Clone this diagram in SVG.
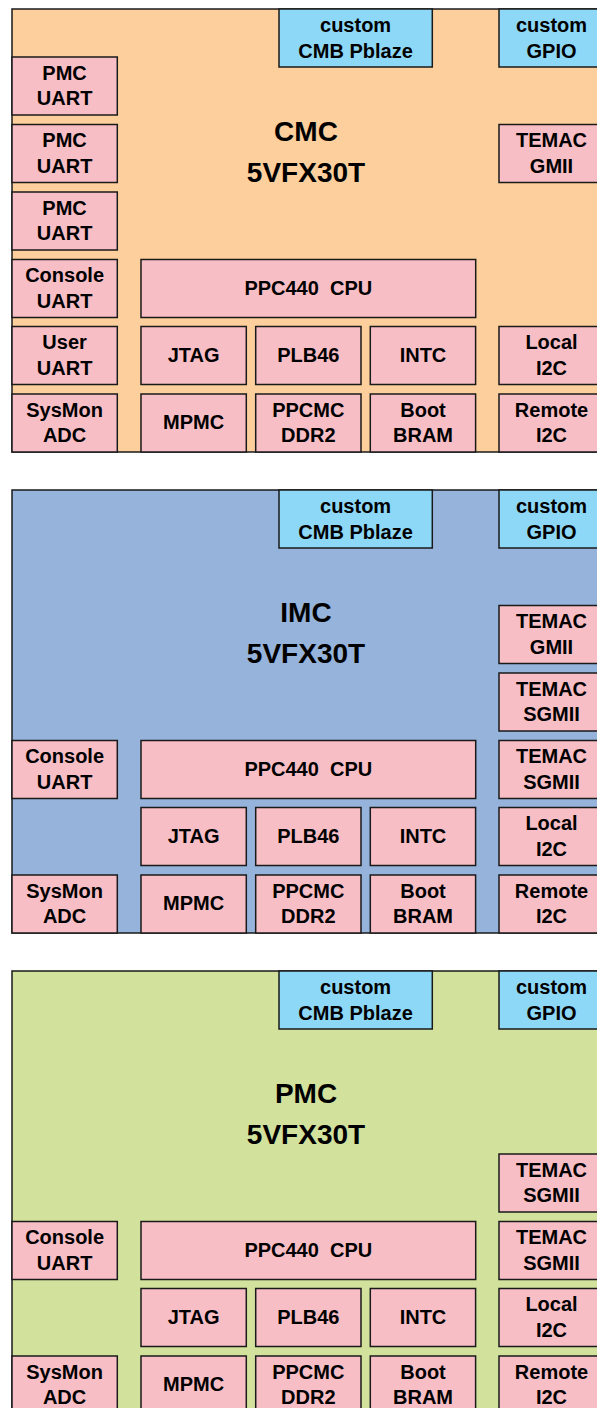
<svg xmlns="http://www.w3.org/2000/svg" width="597" height="1408" viewBox="0 0 597 1408">
<style>
text{font-family:"Liberation Sans",Arial,sans-serif;font-weight:bold;fill:#000;text-anchor:middle}
.t{font-size:20px}
.h{font-size:28px}
rect{stroke:#1a1a1a;stroke-width:1.5}
.cmc{fill:#FCCF9D}
.imc{fill:#95B3DB}
.pmc{fill:#D2E29D}
.p{fill:#F8BEC5}
.c{fill:#8ED8F7}
</style>

<!-- Panel 1: CMC -->
<g id="panel-cmc">
<rect id="cmc-bg" class="cmc" x="12" y="9" width="600" height="443"/>
<g id="cmc-title"><text class="h" x="306" y="140.5">CMC</text><text class="h" x="306" y="181.5">5VFX30T</text></g>
<g id="cmc-cmb"><rect class="c" x="279" y="9" width="153.3" height="58"/><text class="t" x="355.6" y="31.7">custom</text><text class="t" x="355.6" y="57.5">CMB Pblaze</text></g>
<g id="cmc-gpio"><rect class="c" x="499" y="9" width="110" height="58"/><text class="t" x="551.5" y="31.7">custom</text><text class="t" x="551.5" y="57.5">GPIO</text></g>
<g id="cmc-pmcuart1"><rect class="p" x="12" y="57" width="105.3" height="58"/><text class="t" x="64.6" y="79.5">PMC</text><text class="t" x="64.6" y="105.3">UART</text></g>
<g id="cmc-pmcuart2"><rect class="p" x="12" y="124.5" width="105.3" height="58"/><text class="t" x="64.6" y="147">PMC</text><text class="t" x="64.6" y="172.8">UART</text></g>
<g id="cmc-pmcuart3"><rect class="p" x="12" y="192" width="105.3" height="58"/><text class="t" x="64.6" y="214.5">PMC</text><text class="t" x="64.6" y="240.3">UART</text></g>
<g id="cmc-temac"><rect class="p" x="499" y="124.5" width="110" height="58"/><text class="t" x="551.5" y="147">TEMAC</text><text class="t" x="551.5" y="172.8">GMII</text></g>
<g id="cmc-console"><rect class="p" x="12" y="259.5" width="105.3" height="58"/><text class="t" x="64.6" y="282">Console</text><text class="t" x="64.6" y="307.8">UART</text></g>
<g id="cmc-cpu"><rect class="p" x="141" y="259.5" width="334.7" height="58"/><text class="t" x="308.3" y="294.5" xml:space="preserve">PPC440  CPU</text></g>
<g id="cmc-user"><rect class="p" x="12" y="326.5" width="105.3" height="58"/><text class="t" x="64.6" y="349">User</text><text class="t" x="64.6" y="374.8">UART</text></g>
<g id="cmc-jtag"><rect class="p" x="141" y="326.5" width="105.3" height="58"/><text class="t" x="193.6" y="361.5">JTAG</text></g>
<g id="cmc-plb"><rect class="p" x="255.7" y="326.5" width="105.3" height="58"/><text class="t" x="308.3" y="361.5">PLB46</text></g>
<g id="cmc-intc"><rect class="p" x="370.3" y="326.5" width="105.3" height="58"/><text class="t" x="423" y="361.5">INTC</text></g>
<g id="cmc-local"><rect class="p" x="499" y="326.5" width="110" height="58"/><text class="t" x="551.5" y="349">Local</text><text class="t" x="551.5" y="374.8">I2C</text></g>
<g id="cmc-sysmon"><rect class="p" x="12" y="394" width="105.3" height="58"/><text class="t" x="64.6" y="416.5">SysMon</text><text class="t" x="64.6" y="442.3">ADC</text></g>
<g id="cmc-mpmc"><rect class="p" x="141" y="394" width="105.3" height="58"/><text class="t" x="193.6" y="429">MPMC</text></g>
<g id="cmc-ppcmc"><rect class="p" x="255.7" y="394" width="105.3" height="58"/><text class="t" x="308.3" y="416.5">PPCMC</text><text class="t" x="308.3" y="442.3">DDR2</text></g>
<g id="cmc-boot"><rect class="p" x="370.3" y="394" width="105.3" height="58"/><text class="t" x="423" y="416.5">Boot</text><text class="t" x="423" y="442.3">BRAM</text></g>
<g id="cmc-remote"><rect class="p" x="499" y="394" width="110" height="58"/><text class="t" x="551.5" y="416.5">Remote</text><text class="t" x="551.5" y="442.3">I2C</text></g>
</g>

<!-- Panel 2: IMC -->
<g id="panel-imc" transform="translate(0,481)">
<rect id="imc-bg" class="imc" x="12" y="9" width="600" height="443"/>
<g id="imc-title"><text class="h" x="306" y="140.5">IMC</text><text class="h" x="306" y="181.5">5VFX30T</text></g>
<g id="imc-cmb"><rect class="c" x="279" y="9" width="153.3" height="58"/><text class="t" x="355.6" y="31.7">custom</text><text class="t" x="355.6" y="57.5">CMB Pblaze</text></g>
<g id="imc-gpio"><rect class="c" x="499" y="9" width="110" height="58"/><text class="t" x="551.5" y="31.7">custom</text><text class="t" x="551.5" y="57.5">GPIO</text></g>
<g id="imc-temac-gmii"><rect class="p" x="499" y="124.5" width="110" height="58"/><text class="t" x="551.5" y="147">TEMAC</text><text class="t" x="551.5" y="172.8">GMII</text></g>
<g id="imc-temac-sgmii1"><rect class="p" x="499" y="192" width="110" height="58"/><text class="t" x="551.5" y="214.5">TEMAC</text><text class="t" x="551.5" y="240.3">SGMII</text></g>
<g id="imc-console"><rect class="p" x="12" y="259.5" width="105.3" height="58"/><text class="t" x="64.6" y="282">Console</text><text class="t" x="64.6" y="307.8">UART</text></g>
<g id="imc-cpu"><rect class="p" x="141" y="259.5" width="334.7" height="58"/><text class="t" x="308.3" y="294.5" xml:space="preserve">PPC440  CPU</text></g>
<g id="imc-temac-sgmii2"><rect class="p" x="499" y="259.5" width="110" height="58"/><text class="t" x="551.5" y="282">TEMAC</text><text class="t" x="551.5" y="307.8">SGMII</text></g>
<g id="imc-jtag"><rect class="p" x="141" y="326.5" width="105.3" height="58"/><text class="t" x="193.6" y="361.5">JTAG</text></g>
<g id="imc-plb"><rect class="p" x="255.7" y="326.5" width="105.3" height="58"/><text class="t" x="308.3" y="361.5">PLB46</text></g>
<g id="imc-intc"><rect class="p" x="370.3" y="326.5" width="105.3" height="58"/><text class="t" x="423" y="361.5">INTC</text></g>
<g id="imc-local"><rect class="p" x="499" y="326.5" width="110" height="58"/><text class="t" x="551.5" y="349">Local</text><text class="t" x="551.5" y="374.8">I2C</text></g>
<g id="imc-sysmon"><rect class="p" x="12" y="394" width="105.3" height="58"/><text class="t" x="64.6" y="416.5">SysMon</text><text class="t" x="64.6" y="442.3">ADC</text></g>
<g id="imc-mpmc"><rect class="p" x="141" y="394" width="105.3" height="58"/><text class="t" x="193.6" y="429">MPMC</text></g>
<g id="imc-ppcmc"><rect class="p" x="255.7" y="394" width="105.3" height="58"/><text class="t" x="308.3" y="416.5">PPCMC</text><text class="t" x="308.3" y="442.3">DDR2</text></g>
<g id="imc-boot"><rect class="p" x="370.3" y="394" width="105.3" height="58"/><text class="t" x="423" y="416.5">Boot</text><text class="t" x="423" y="442.3">BRAM</text></g>
<g id="imc-remote"><rect class="p" x="499" y="394" width="110" height="58"/><text class="t" x="551.5" y="416.5">Remote</text><text class="t" x="551.5" y="442.3">I2C</text></g>
</g>

<!-- Panel 3: PMC -->
<g id="panel-pmc" transform="translate(0,962)">
<rect id="pmc-bg" class="pmc" x="12" y="9" width="600" height="443"/>
<g id="pmc-title"><text class="h" x="306" y="140.5">PMC</text><text class="h" x="306" y="181.5">5VFX30T</text></g>
<g id="pmc-cmb"><rect class="c" x="279" y="9" width="153.3" height="58"/><text class="t" x="355.6" y="31.7">custom</text><text class="t" x="355.6" y="57.5">CMB Pblaze</text></g>
<g id="pmc-gpio"><rect class="c" x="499" y="9" width="110" height="58"/><text class="t" x="551.5" y="31.7">custom</text><text class="t" x="551.5" y="57.5">GPIO</text></g>
<g id="pmc-temac-sgmii1"><rect class="p" x="499" y="192" width="110" height="58"/><text class="t" x="551.5" y="214.5">TEMAC</text><text class="t" x="551.5" y="240.3">SGMII</text></g>
<g id="pmc-console"><rect class="p" x="12" y="259.5" width="105.3" height="58"/><text class="t" x="64.6" y="282">Console</text><text class="t" x="64.6" y="307.8">UART</text></g>
<g id="pmc-cpu"><rect class="p" x="141" y="259.5" width="334.7" height="58"/><text class="t" x="308.3" y="294.5" xml:space="preserve">PPC440  CPU</text></g>
<g id="pmc-temac-sgmii2"><rect class="p" x="499" y="259.5" width="110" height="58"/><text class="t" x="551.5" y="282">TEMAC</text><text class="t" x="551.5" y="307.8">SGMII</text></g>
<g id="pmc-jtag"><rect class="p" x="141" y="326.5" width="105.3" height="58"/><text class="t" x="193.6" y="361.5">JTAG</text></g>
<g id="pmc-plb"><rect class="p" x="255.7" y="326.5" width="105.3" height="58"/><text class="t" x="308.3" y="361.5">PLB46</text></g>
<g id="pmc-intc"><rect class="p" x="370.3" y="326.5" width="105.3" height="58"/><text class="t" x="423" y="361.5">INTC</text></g>
<g id="pmc-local"><rect class="p" x="499" y="326.5" width="110" height="58"/><text class="t" x="551.5" y="349">Local</text><text class="t" x="551.5" y="374.8">I2C</text></g>
<g id="pmc-sysmon"><rect class="p" x="12" y="394" width="105.3" height="58"/><text class="t" x="64.6" y="416.5">SysMon</text><text class="t" x="64.6" y="442.3">ADC</text></g>
<g id="pmc-mpmc"><rect class="p" x="141" y="394" width="105.3" height="58"/><text class="t" x="193.6" y="429">MPMC</text></g>
<g id="pmc-ppcmc"><rect class="p" x="255.7" y="394" width="105.3" height="58"/><text class="t" x="308.3" y="416.5">PPCMC</text><text class="t" x="308.3" y="442.3">DDR2</text></g>
<g id="pmc-boot"><rect class="p" x="370.3" y="394" width="105.3" height="58"/><text class="t" x="423" y="416.5">Boot</text><text class="t" x="423" y="442.3">BRAM</text></g>
<g id="pmc-remote"><rect class="p" x="499" y="394" width="110" height="58"/><text class="t" x="551.5" y="416.5">Remote</text><text class="t" x="551.5" y="442.3">I2C</text></g>
</g>

<g id="connectors"></g>
</svg>
